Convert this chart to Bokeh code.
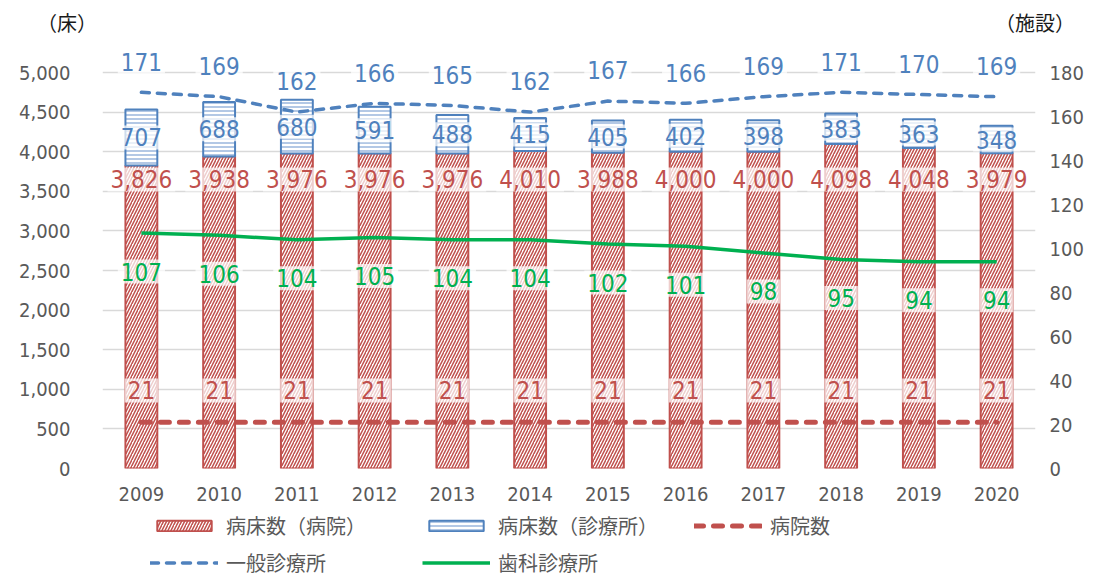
from bokeh.plotting import figure
from bokeh.layouts import column
from bokeh.models import (ColumnDataSource, FactorRange, Range1d, LinearAxis, Div,
                          Legend, LegendItem, FixedTicker, NumeralTickFormatter)
from bokeh.embed import file_html
from bokeh.resources import INLINE
from bokeh.core.properties import value

# ---- data ----
years = ["2009", "2010", "2011", "2012", "2013", "2014", "2015", "2016", "2017", "2018", "2019", "2020"]
hospital_beds = [3826, 3938, 3976, 3976, 3976, 4010, 3988, 4000, 4000, 4098, 4048, 3979]
clinic_beds = [707, 688, 680, 591, 488, 415, 405, 402, 398, 383, 363, 348]
hospitals = [21, 21, 21, 21, 21, 21, 21, 21, 21, 21, 21, 21]
general_clinics = [171, 169, 162, 166, 165, 162, 167, 166, 169, 171, 170, 169]
dental_clinics = [107, 106, 104, 105, 104, 104, 102, 101, 98, 95, 94, 94]
left_ticks = [0, 500, 1000, 1500, 2000, 2500, 3000, 3500, 4000, 4500, 5000]
right_ticks = [0, 20, 40, 60, 80, 100, 120, 140, 160, 180]
series_names = ["病床数（病院）", "病床数（診療所）", "病院数", "一般診療所", "歯科診療所"]
unit_titles = ["（床）", "（施設）"]

RED = "#C0504D"
BLUE = "#4F81BD"
GREEN = "#00B050"
GREY = "#595959"
NUM_FONT = "DejaVu Sans Condensed, Roboto"
JP_FONT = "Noto Sans CJK JP"

W = 1090
B_LEFT, B_RIGHT = 102, 55

# ---- header: unit titles of both axes ----
head = Div(width=W, height=40, margin=0, text=(
    '<div style="position:relative;width:%dpx;height:40px;font-family:\'%s\';'
    'font-size:20px;line-height:24px;color:#1a1a1a;">'
    '<span style="position:absolute;left:37px;top:11px;white-space:nowrap;">%s</span>'
    '<span style="position:absolute;left:995px;top:11px;white-space:nowrap;">%s</span>'
    '</div>') % (W, JP_FONT, unit_titles[0], unit_titles[1]))

# ---- main chart ----
src = ColumnDataSource(dict(
    year=years,
    hosp=hospital_beds,
    clinic=clinic_beds,
    top2=[h + c for h, c in zip(hospital_beds, clinic_beds)],
    clinic_mid=[h + c / 2 for h, c in zip(hospital_beds, clinic_beds)],
    hosp_lbl_y=[3650 for _ in hospital_beds],
    hosp_txt=[f"{v:,}" for v in hospital_beds],
    clinic_txt=[str(v) for v in clinic_beds],
    hospitals=hospitals,
    hospitals_lbl_y=[v + 14.5 for v in hospitals],
    hospitals_txt=[str(v) for v in hospitals],
    gen=general_clinics,
    gen_lbl_y=[v + 14 for v in general_clinics],
    gen_txt=[str(v) for v in general_clinics],
    den=dental_clinics,
    den_lbl_y=[v - 17.5 for v in dental_clinics],
    den_txt=[str(v) for v in dental_clinics],
))

LEFT_MAX = 5000
RIGHT_MAX = 180
extend = 423 / 396  # frame reaches a little above the top tick, room for the labels
p = figure(x_range=FactorRange(factors=years), y_range=Range1d(0, LEFT_MAX * extend),
           width=W, height=465, output_backend="svg", toolbar_location=None,
           min_border_left=B_LEFT, min_border_right=B_RIGHT, min_border_top=5, min_border_bottom=37)
p.extra_y_ranges = {"right": Range1d(0, RIGHT_MAX * extend)}
p.outline_line_color = None

bar_h_style = dict(fill_color="white", line_color=RED, line_width=2,
                   hatch_pattern="/", hatch_color=RED, hatch_scale=6, hatch_weight=1.5)
bar_c_style = dict(fill_color="white", line_color=BLUE, line_width=2,
                   hatch_pattern="-", hatch_color="#7FA3D3", hatch_scale=4, hatch_weight=1.2)
line_hc_style = dict(line_color=RED, line_width=5, line_dash="9 10", line_cap="round")
line_g_style = dict(line_color=BLUE, line_width=3.5, line_dash="8 8", line_cap="round")
line_d_style = dict(line_color=GREEN, line_width=3.5)

# bars
p.vbar(x="year", top="hosp", bottom=0, width=0.41, source=src, **bar_h_style)
p.vbar(x="year", bottom="hosp", top="top2", width=0.41, source=src, **bar_c_style)

# lines
p.line(x="year", y="hospitals", y_range_name="right", source=src, **line_hc_style)
p.line(x="year", y="gen", y_range_name="right", source=src, **line_g_style)
p.line(x="year", y="den", y_range_name="right", source=src, **line_d_style)

# axes
p.yaxis.ticker = FixedTicker(ticks=left_ticks)
p.yaxis.formatter = NumeralTickFormatter(format="0,0")
right_axis = LinearAxis(y_range_name="right", ticker=FixedTicker(ticks=right_ticks))
p.add_layout(right_axis, "right")

for ax in [p.yaxis[0], right_axis, p.xaxis[0]]:
    ax.axis_line_color = None
    ax.major_tick_line_color = None
    ax.minor_tick_line_color = None
    ax.major_label_text_font = NUM_FONT
    ax.major_label_text_font_size = "20px"
    ax.major_label_text_color = GREY
p.yaxis[0].major_label_standoff = 26
right_axis.major_label_standoff = 8
p.xaxis[0].major_label_standoff = 12

p.xgrid.grid_line_color = None
p.ygrid.grid_line_color = "#D9D9D9"
p.ygrid.grid_line_width = 1.5

# data labels
def add_labels(y, text, color, y_range_name="default"):
    p.text(x="year", y=y, text=text, source=src, y_range_name=y_range_name,
           text_align="center", text_baseline="middle",
           text_font=value(NUM_FONT), text_font_size=value("24px"),
           text_color=color,
           background_fill_color="white", background_fill_alpha=0.72, padding=3)

add_labels("hosp_lbl_y", "hosp_txt", RED)
add_labels("clinic_mid", "clinic_txt", BLUE)
add_labels("hospitals_lbl_y", "hospitals_txt", RED, "right")
add_labels("gen_lbl_y", "gen_txt", BLUE, "right")
add_labels("den_lbl_y", "den_txt", GREEN, "right")

# ---- footer: series legend (same series; its own view shows none of their marks) ----
foot = figure(width=W, height=72, x_range=FactorRange(factors=["legend"]),
              y_range=Range1d(-2, -1),
              x_axis_type=None, y_axis_type=None, output_backend="svg",
              toolbar_location=None, min_border_left=B_LEFT, min_border_right=B_RIGHT,
              min_border_top=0, min_border_bottom=0)
foot.grid.visible = False
foot.outline_line_color = None
foot.extra_y_ranges = {"right": Range1d(-2, -1)}
f_h = foot.vbar(x="year", top="hosp", bottom=0, width=0.41, source=src, **bar_h_style)
f_c = foot.vbar(x="year", bottom="hosp", top="top2", width=0.41, source=src, **bar_c_style)
f_hc = foot.line(x="year", y="hospitals", y_range_name="right", source=src, **line_hc_style)
f_g = foot.line(x="year", y="gen", y_range_name="right", source=src, **line_g_style)
f_d = foot.line(x="year", y="den", y_range_name="right", source=src, **line_d_style)

legend = Legend(items=[
    LegendItem(label=series_names[0], renderers=[f_h]),
    LegendItem(label=series_names[1], renderers=[f_c]),
    LegendItem(label=series_names[2], renderers=[f_hc]),
    LegendItem(label=series_names[3], renderers=[f_g]),
    LegendItem(label=series_names[4], renderers=[f_d]),
], location=(48, 0), orientation="horizontal", ncols=3,
    glyph_width=68, glyph_height=13, label_width=188, label_height=20,
    label_standoff=8, spacing=8, padding=0, margin=0,
    label_text_font=JP_FONT, label_text_font_size="20px", label_text_color=GREY,
    border_line_color=None, background_fill_alpha=0)
foot.add_layout(legend, "center")

open("out.html", "w").write(file_html(column(head, p, foot), INLINE))
